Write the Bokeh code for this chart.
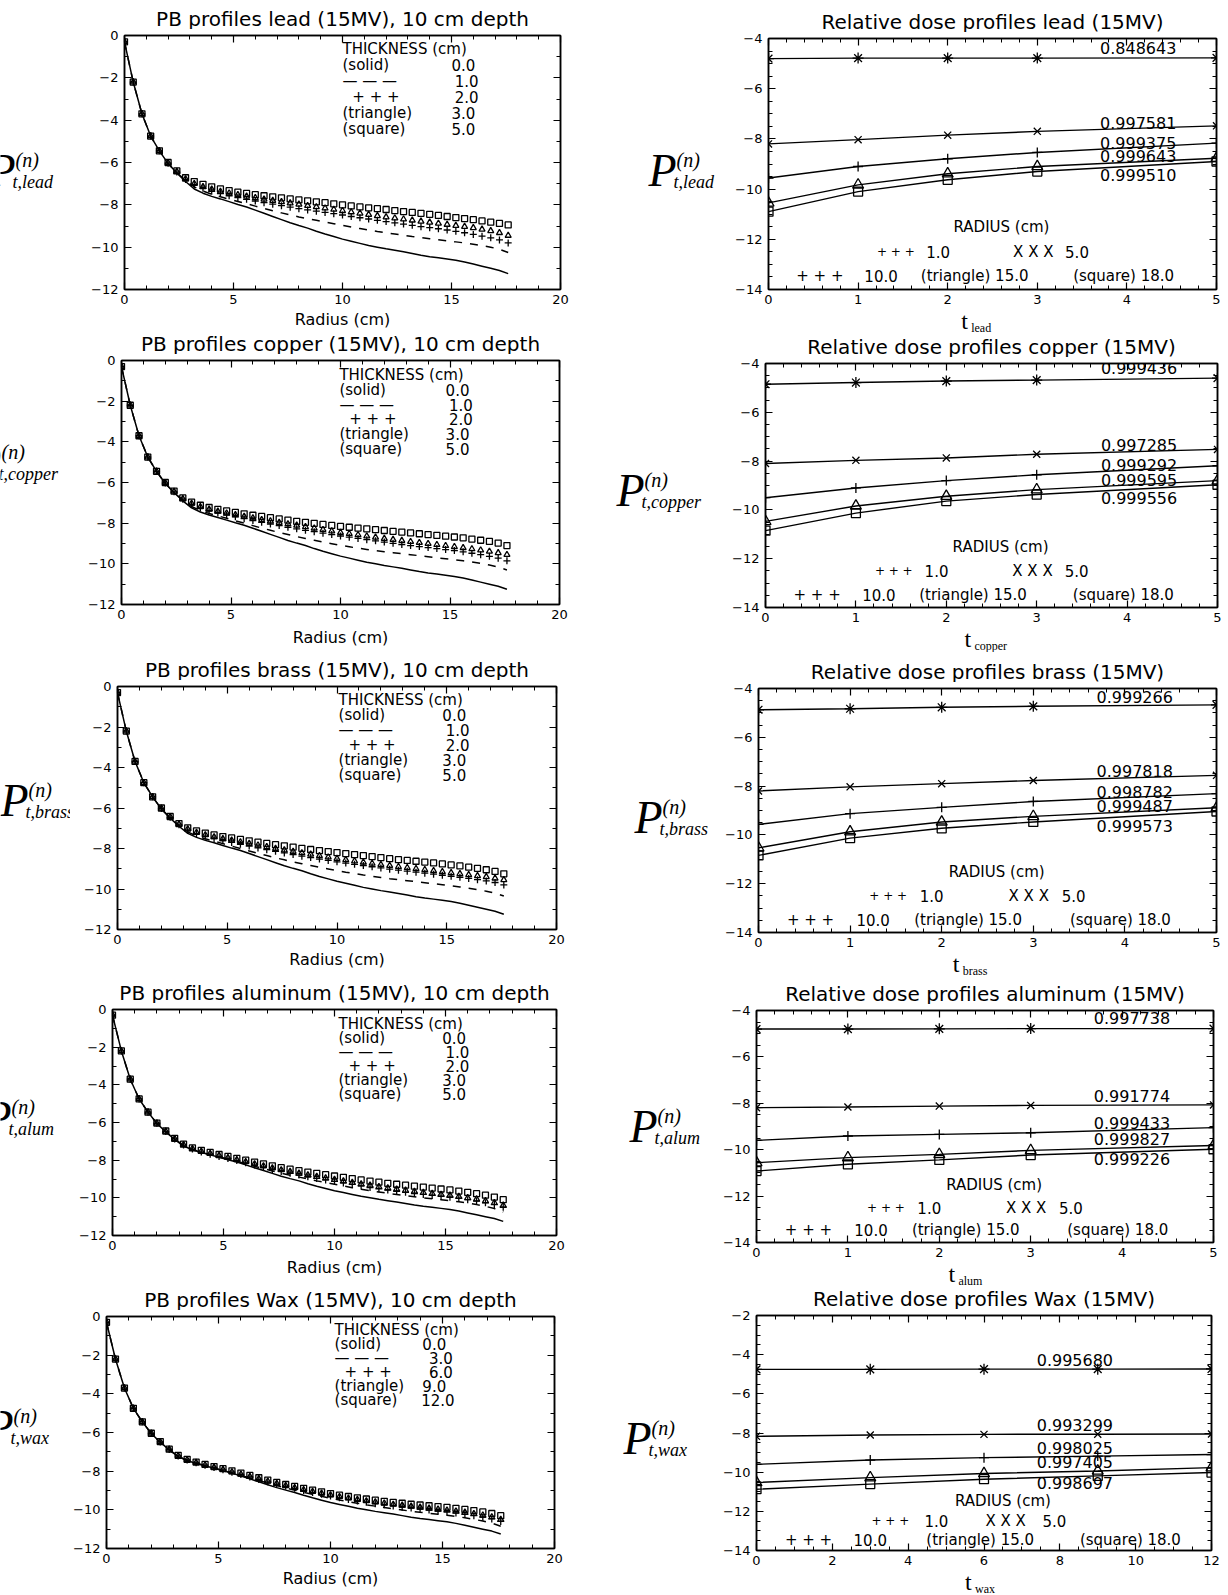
from bokeh.plotting import figure
from bokeh.layouts import column, row
from bokeh.models import Range1d, Label, LinearAxis, SingleIntervalTicker
from bokeh.embed import file_html
from bokeh.resources import INLINE

# ---------------- data ----------------
RADIUS = [0.0, 0.4, 0.8, 1.2, 1.6, 2.0, 2.4, 2.8, 3.2, 3.6,
          4.0, 4.4, 4.8, 5.2, 5.6, 6.0, 6.4, 6.8, 7.2, 7.6,
          8.0, 8.4, 8.8, 9.2, 9.6, 10.0, 10.4, 10.8, 11.2, 11.6,
          12.0, 12.4, 12.8, 13.2, 13.6, 14.0, 14.4, 14.8, 15.2, 15.6,
          16.0, 16.4, 16.8, 17.2, 17.6]

# thickness 0.0 (solid) - open field, identical in every left panel
OPEN_FIELD = [-0.3, -2.2, -3.7, -4.75, -5.45,
              -6.05, -6.5, -6.9, -7.25, -7.45,
              -7.6, -7.72, -7.85, -7.98, -8.1,
              -8.25, -8.4, -8.55, -8.7, -8.85,
              -8.98, -9.1, -9.25, -9.38, -9.5,
              -9.62, -9.72, -9.82, -9.92, -10.0,
              -10.08, -10.15, -10.22, -10.3, -10.38,
              -10.45, -10.5, -10.56, -10.62, -10.7,
              -10.8, -10.9, -11.0, -11.1, -11.25]

LEAD_DASH = [-0.3, -2.2, -3.7, -4.75, -5.45, -6.05, -6.48, -6.86, -7.15, -7.35,
             -7.5, -7.62, -7.73, -7.84, -7.95, -8.06, -8.17, -8.28, -8.38, -8.48,
             -8.57, -8.65, -8.73, -8.81, -8.89, -8.97, -9.05, -9.12, -9.19, -9.26,
             -9.32, -9.38, -9.44, -9.5, -9.55, -9.6, -9.65, -9.7, -9.75, -9.8,
             -9.86, -9.93, -10.0, -10.1, -10.25]
LEAD_PLUS = [-0.3, -2.2, -3.7, -4.75, -5.45, -6.03, -6.45, -6.8, -7.05, -7.22,
             -7.36, -7.47, -7.57, -7.66, -7.74, -7.82, -7.9, -7.97, -8.04, -8.11,
             -8.18, -8.24, -8.3, -8.36, -8.42, -8.48, -8.55, -8.61, -8.67, -8.73,
             -8.79, -8.85, -8.91, -8.97, -9.03, -9.08, -9.13, -9.19, -9.25, -9.32,
             -9.4, -9.48, -9.56, -9.66, -9.8]
LEAD_TRI = [-0.3, -2.2, -3.7, -4.75, -5.45, -6.02, -6.43, -6.78, -7.0, -7.15,
            -7.27, -7.37, -7.45, -7.53, -7.6, -7.67, -7.74, -7.8, -7.86, -7.92,
            -7.98, -8.04, -8.1, -8.16, -8.22, -8.28, -8.34, -8.4, -8.46, -8.52,
            -8.58, -8.63, -8.68, -8.73, -8.78, -8.83, -8.88, -8.93, -8.98, -9.03,
            -9.09, -9.16, -9.23, -9.32, -9.45]
LEAD_SQ = [-0.3, -2.2, -3.7, -4.75, -5.45, -6.0, -6.4, -6.72, -6.9, -7.03,
           -7.15, -7.25, -7.33, -7.4, -7.46, -7.52, -7.57, -7.62, -7.67, -7.72,
           -7.77, -7.81, -7.86, -7.9, -7.95, -8.0, -8.05, -8.1, -8.14, -8.18,
           -8.22, -8.27, -8.32, -8.36, -8.4, -8.45, -8.5, -8.55, -8.6, -8.65,
           -8.7, -8.76, -8.82, -8.88, -8.95]

COPPER_DASH = [-0.3, -2.2, -3.7, -4.75, -5.45, -6.05, -6.48, -6.87, -7.18, -7.38,
               -7.52, -7.64, -7.76, -7.88, -8.0, -8.12, -8.24, -8.35, -8.46, -8.56,
               -8.66, -8.75, -8.84, -8.93, -9.01, -9.09, -9.16, -9.23, -9.29, -9.35,
               -9.4, -9.45, -9.5, -9.55, -9.6, -9.65, -9.7, -9.75, -9.8, -9.85,
               -9.91, -9.98, -10.06, -10.16, -10.3]
COPPER_PLUS = [-0.3, -2.2, -3.7, -4.75, -5.45, -6.03, -6.46, -6.82, -7.07, -7.25,
               -7.39, -7.5, -7.6, -7.69, -7.78, -7.87, -7.96, -8.04, -8.12, -8.2,
               -8.28, -8.35, -8.42, -8.49, -8.56, -8.63, -8.69, -8.75, -8.81, -8.87,
               -8.93, -8.99, -9.05, -9.1, -9.15, -9.2, -9.25, -9.3, -9.35, -9.41,
               -9.48, -9.55, -9.63, -9.72, -9.85]
COPPER_TRI = [-0.3, -2.2, -3.7, -4.75, -5.45, -6.02, -6.44, -6.8, -7.03, -7.2,
              -7.32, -7.42, -7.51, -7.59, -7.67, -7.75, -7.83, -7.9, -7.97, -8.04,
              -8.11, -8.18, -8.25, -8.32, -8.39, -8.46, -8.52, -8.58, -8.64, -8.7,
              -8.76, -8.81, -8.86, -8.91, -8.96, -9.01, -9.06, -9.11, -9.16, -9.21,
              -9.27, -9.33, -9.39, -9.46, -9.55]
COPPER_SQ = [-0.3, -2.2, -3.7, -4.75, -5.45, -6.0, -6.42, -6.76, -6.97, -7.12,
             -7.23, -7.32, -7.4, -7.47, -7.54, -7.61, -7.67, -7.73, -7.79, -7.85,
             -7.91, -7.96, -8.01, -8.06, -8.11, -8.16, -8.2, -8.24, -8.28, -8.32,
             -8.36, -8.4, -8.44, -8.48, -8.52, -8.56, -8.6, -8.64, -8.68, -8.72,
             -8.78, -8.84, -8.9, -8.98, -9.1]

BRASS_DASH = [-0.3, -2.2, -3.7, -4.75, -5.45, -6.05, -6.48, -6.87, -7.18, -7.38,
              -7.52, -7.64, -7.76, -7.88, -8.0, -8.12, -8.24, -8.35, -8.46, -8.56,
              -8.66, -8.75, -8.84, -8.93, -9.01, -9.09, -9.17, -9.24, -9.31, -9.37,
              -9.43, -9.49, -9.54, -9.59, -9.64, -9.69, -9.74, -9.79, -9.84, -9.9,
              -9.96, -10.03, -10.11, -10.21, -10.35]
BRASS_PLUS = [-0.3, -2.2, -3.7, -4.75, -5.45, -6.03, -6.46, -6.83, -7.08, -7.26,
              -7.4, -7.51, -7.61, -7.7, -7.79, -7.88, -7.97, -8.06, -8.14, -8.22,
              -8.3, -8.38, -8.45, -8.52, -8.59, -8.66, -8.72, -8.78, -8.84, -8.9,
              -8.96, -9.02, -9.07, -9.12, -9.17, -9.22, -9.27, -9.32, -9.37, -9.42,
              -9.48, -9.54, -9.6, -9.68, -9.8]
BRASS_TRI = [-0.3, -2.2, -3.7, -4.75, -5.45, -6.02, -6.44, -6.8, -7.04, -7.21,
             -7.33, -7.43, -7.52, -7.6, -7.68, -7.76, -7.84, -7.92, -8.0, -8.08,
             -8.15, -8.22, -8.29, -8.36, -8.43, -8.5, -8.56, -8.62, -8.68, -8.74,
             -8.8, -8.85, -8.9, -8.95, -9.0, -9.05, -9.1, -9.15, -9.2, -9.25,
             -9.3, -9.35, -9.4, -9.47, -9.55]
BRASS_SQ = [-0.3, -2.2, -3.7, -4.75, -5.45, -6.0, -6.42, -6.77, -6.98, -7.13,
            -7.24, -7.33, -7.41, -7.48, -7.55, -7.62, -7.69, -7.75, -7.81, -7.87,
            -7.93, -7.99, -8.05, -8.1, -8.15, -8.2, -8.25, -8.3, -8.35, -8.4,
            -8.45, -8.5, -8.55, -8.59, -8.63, -8.67, -8.71, -8.76, -8.81, -8.86,
            -8.92, -8.98, -9.05, -9.13, -9.25]

ALUM_DASH = [-0.3, -2.2, -3.7, -4.75, -5.45, -6.05, -6.49, -6.88, -7.22, -7.43,
             -7.58, -7.7, -7.82, -7.94, -8.06, -8.19, -8.32, -8.45, -8.57, -8.69,
             -8.8, -8.9, -9.0, -9.1, -9.19, -9.28, -9.37, -9.46, -9.54, -9.62,
             -9.69, -9.76, -9.82, -9.88, -9.94, -10.0, -10.05, -10.1, -10.15, -10.21,
             -10.28, -10.36, -10.45, -10.57, -10.75]
ALUM_PLUS = [-0.3, -2.2, -3.7, -4.75, -5.45, -6.04, -6.48, -6.87, -7.2, -7.41,
             -7.56, -7.68, -7.8, -7.91, -8.02, -8.14, -8.26, -8.38, -8.49, -8.6,
             -8.7, -8.79, -8.88, -8.97, -9.05, -9.13, -9.21, -9.29, -9.37, -9.45,
             -9.52, -9.59, -9.65, -9.71, -9.77, -9.82, -9.87, -9.92, -9.97, -10.03,
             -10.1, -10.17, -10.26, -10.36, -10.5]
ALUM_TRI = [-0.3, -2.2, -3.7, -4.75, -5.45, -6.04, -6.47, -6.86, -7.18, -7.39,
            -7.53, -7.65, -7.76, -7.87, -7.98, -8.09, -8.2, -8.31, -8.42, -8.52,
            -8.61, -8.7, -8.79, -8.87, -8.95, -9.03, -9.11, -9.19, -9.27, -9.34,
            -9.41, -9.48, -9.54, -9.6, -9.66, -9.72, -9.77, -9.82, -9.87, -9.93,
            -10.0, -10.07, -10.16, -10.26, -10.4]
ALUM_SQ = [-0.3, -2.2, -3.7, -4.75, -5.45, -6.03, -6.45, -6.84, -7.15, -7.35,
           -7.48, -7.59, -7.7, -7.8, -7.9, -8.0, -8.1, -8.2, -8.3, -8.4,
           -8.48, -8.56, -8.63, -8.7, -8.77, -8.84, -8.91, -8.98, -9.05, -9.11,
           -9.17, -9.23, -9.28, -9.33, -9.38, -9.43, -9.48, -9.53, -9.58, -9.64,
           -9.71, -9.78, -9.86, -9.96, -10.1]

WAX_DASH = [-0.3, -2.2, -3.7, -4.75, -5.45, -6.05, -6.5, -6.89, -7.23, -7.44,
            -7.59, -7.71, -7.83, -7.96, -8.09, -8.22, -8.35, -8.48, -8.61, -8.74,
            -8.87, -8.98, -9.09, -9.2, -9.3, -9.4, -9.49, -9.58, -9.66, -9.74,
            -9.81, -9.88, -9.95, -10.01, -10.07, -10.13, -10.18, -10.23, -10.28, -10.34,
            -10.41, -10.49, -10.58, -10.69, -10.85]
WAX_PLUS = [-0.3, -2.2, -3.7, -4.75, -5.45, -6.05, -6.49, -6.88, -7.21, -7.42,
            -7.57, -7.69, -7.81, -7.93, -8.05, -8.17, -8.3, -8.43, -8.55, -8.67,
            -8.78, -8.89, -9.0, -9.1, -9.2, -9.29, -9.38, -9.46, -9.54, -9.61,
            -9.68, -9.74, -9.8, -9.86, -9.91, -9.96, -10.01, -10.06, -10.11, -10.17,
            -10.23, -10.3, -10.38, -10.47, -10.6]
WAX_TRI = [-0.3, -2.2, -3.7, -4.75, -5.45, -6.04, -6.48, -6.87, -7.2, -7.41,
           -7.56, -7.68, -7.8, -7.92, -8.04, -8.16, -8.28, -8.4, -8.52, -8.64,
           -8.75, -8.86, -8.96, -9.06, -9.15, -9.24, -9.32, -9.4, -9.47, -9.54,
           -9.6, -9.66, -9.72, -9.77, -9.82, -9.87, -9.92, -9.97, -10.02, -10.07,
           -10.13, -10.2, -10.28, -10.37, -10.5]
WAX_SQ = [-0.3, -2.2, -3.7, -4.75, -5.45, -6.04, -6.47, -6.86, -7.18, -7.39,
          -7.53, -7.65, -7.76, -7.87, -7.98, -8.1, -8.22, -8.34, -8.46, -8.58,
          -8.69, -8.79, -8.89, -8.98, -9.07, -9.16, -9.24, -9.31, -9.38, -9.44,
          -9.5, -9.56, -9.61, -9.66, -9.71, -9.75, -9.79, -9.83, -9.87, -9.92,
          -9.98, -10.04, -10.11, -10.19, -10.3]

THICK_METAL = ["0.0", "1.0", "2.0", "3.0", "5.0"]
THICK_WAX = ["0.0", "3.0", "6.0", "9.0", "12.0"]

# relative dose vs thickness, radii 1, 5, 10, 15, 18 cm
T_METAL = [0, 1, 2, 3, 5]
T_WAX = [0, 3, 6, 9, 12]

LEAD_R = [[-4.8, -4.78, -4.78, -4.78, -4.77],
          [-8.2, -8.03, -7.85, -7.7, -7.48],
          [-9.56, -9.1, -8.79, -8.54, -8.17],
          [-10.55, -9.83, -9.39, -9.1, -8.77],
          [-10.9, -10.1, -9.63, -9.3, -8.9]]
LEAD_CORR = ["0.848643", "0.997581", "0.999375", "0.999643", "0.999510"]

COPPER_R = [[-4.85, -4.78, -4.72, -4.68, -4.6],
            [-8.1, -7.97, -7.87, -7.72, -7.52],
            [-9.5, -9.1, -8.8, -8.56, -8.19],
            [-10.47, -9.84, -9.44, -9.17, -8.8],
            [-10.85, -10.13, -9.64, -9.37, -8.97]]
COPPER_CORR = ["0.999436", "0.997285", "0.999292", "0.999595", "0.999556"]

BRASS_R = [[-4.87, -4.83, -4.77, -4.73, -4.67],
           [-8.2, -8.03, -7.9, -7.77, -7.56],
           [-9.57, -9.13, -8.87, -8.63, -8.31],
           [-10.53, -9.87, -9.47, -9.24, -8.89],
           [-10.84, -10.13, -9.73, -9.47, -9.04]]
BRASS_CORR = ["0.999266", "0.997818", "0.998782", "0.999487", "0.999573"]

ALUM_R = [[-4.8, -4.8, -4.79, -4.78, -4.78],
          [-8.19, -8.16, -8.12, -8.09, -8.07],
          [-9.6, -9.41, -9.34, -9.27, -9.05],
          [-10.56, -10.34, -10.2, -10.03, -9.82],
          [-10.92, -10.63, -10.44, -10.23, -9.98]]
ALUM_CORR = ["0.997738", "0.991774", "0.999433", "0.999827", "0.999226"]

WAX_R = [[-4.75, -4.75, -4.74, -4.74, -4.73],
         [-8.17, -8.1, -8.07, -8.06, -8.05],
         [-9.6, -9.38, -9.26, -9.18, -9.1],
         [-10.53, -10.28, -10.07, -9.94, -9.77],
         [-10.87, -10.61, -10.36, -10.19, -10.02]]
WAX_CORR = ["0.995680", "0.993299", "0.998025", "0.997405", "0.998697"]

# ---------------- styling helpers ----------------
FONT = "DejaVu Sans"
SERIF = "Liberation Serif"
W = 614                # width of one half of the page
WY_L, WY_R = 70, 106   # width of the y-label strips
BT, BB = 6, 21         # plot borders above / below the frame


def lab(p, x, y, text, size, align="left", baseline="middle", font=FONT,
        style="normal", xo=0, yo=0):
    p.add_layout(Label(x=x, y=y, text=text, text_font=font,
                       text_font_size=f"{size}px", text_align=align,
                       text_baseline=baseline, text_font_style=style,
                       x_offset=xo, y_offset=yo, text_color="black"))


def strip(w, h, xr=None, bl=0, br=0):
    s = figure(width=w, height=h,
               x_range=xr if xr is not None else Range1d(0, w),
               y_range=Range1d(0, h),
               title=None, output_backend="svg", toolbar_location=None,
               min_border_left=bl, min_border_right=br, min_border_top=0,
               min_border_bottom=0, x_axis_type=None, y_axis_type=None)
    s.outline_line_color = None
    s.background_fill_color = "white"
    s.border_fill_color = "white"
    return s


def base_fig(w, h, bl, br, xr, yr, xint, xminor, yint, yminor):
    p = figure(width=w, height=h, x_range=Range1d(*xr), y_range=Range1d(*yr),
               title=None, output_backend="svg", toolbar_location=None,
               min_border_left=bl, min_border_right=br,
               min_border_top=BT, min_border_bottom=BB,
               x_axis_type=None, y_axis_type=None)
    for side in ("below", "above", "left", "right"):
        if side in ("below", "above"):
            tk = SingleIntervalTicker(interval=xint, num_minor_ticks=xminor)
        else:
            tk = SingleIntervalTicker(interval=yint, num_minor_ticks=yminor)
        ax = LinearAxis(ticker=tk)
        ax.axis_line_color = "black"
        ax.axis_line_width = 1.5
        ax.major_tick_in = 7
        ax.major_tick_out = 0
        ax.minor_tick_in = 4
        ax.minor_tick_out = 0
        ax.major_tick_line_color = "black"
        ax.minor_tick_line_color = "black"
        ax.major_tick_line_width = 1.2
        ax.minor_tick_line_width = 1.0
        ax.major_label_text_font = FONT
        ax.major_label_text_font_size = "13px"
        ax.major_label_text_color = "black"
        if side in ("above", "right"):
            ax.major_label_text_font_size = "0px"
            ax.major_label_text_color = None
            ax.major_label_standoff = 0
        elif side == "below":
            ax.major_label_standoff = 5
        else:
            ax.major_label_standoff = 6
        p.add_layout(ax, side)
    p.outline_line_color = "black"
    p.outline_line_width = 1.5
    p.background_fill_color = "white"
    p.border_fill_color = "white"
    return p


def ylab_strip(w, H, px, pbase, material):
    # baselines given from the strip top; Bokeh draws 'alphabetic' text about
    # 13 px lower here, so each label is lifted by that amount
    s = strip(w, H)
    yb = H - pbase
    lab(s, px, yb + 16, "P", 46, baseline="alphabetic", font=SERIF, style="italic")
    lab(s, px + 28, yb + 27, "(n)", 20, baseline="alphabetic", font=SERIF,
        style="italic")
    lab(s, px + 25, yb + 5, "t," + material, 18, baseline="alphabetic",
        font=SERIF, style="italic")
    return s


def blocks(H, ft, fb, wy):
    cw = W - wy
    ht = ft - BT
    hp = (fb - ft) + BT + BB
    hx = H - ht - hp
    return cw, ht, hp, hx


def left_panel(s):
    H, ft, fb, fl, fr = s["h"], s["ft"], s["fb"], s["fl"], s["fr"]
    xr, yr = (0, 20), (-12, 0)
    cw, ht, hp, hx = blocks(H, ft, fb, WY_L)
    bl, br = fl - WY_L, W - fr
    p = base_fig(cw, hp, bl, br, xr, yr, 5, 5, 2, 2)
    p.line(RADIUS, OPEN_FIELD, line_color="black", line_width=1.5)
    p.line(RADIUS, s["dash"], line_color="black", line_width=1.5, line_dash="8 8")
    p.scatter(RADIUS, s["plus"], marker="cross", size=7, line_color="black",
              line_width=1.3)
    p.scatter(RADIUS, s["tri"], marker="triangle", size=6, line_color="black",
              fill_color=None, line_width=1.3)
    p.scatter(RADIUS, s["sq"], marker="square", size=6, line_color="black",
              fill_color=None, line_width=1.3)
    x0, y0, dy = s["leg"]
    rows = ["THICKNESS (cm)", "(solid)", "\u2014 \u2014 \u2014", "+ + +",
            "(triangle)", "(square)"]
    for i, txt in enumerate(rows):
        xx = x0 + (0.45 if txt == "+ + +" else 0.0)
        lab(p, xx, y0 - i * dy, txt, 15)
    for i, (txt, nx) in enumerate(zip(s["thick"], s["numx"])):
        lab(p, nx, y0 - (i + 1) * dy, txt, 15)

    ts = strip(cw, ht, p.x_range, bl, br)
    lab(ts, 10, 11, s["title"], 20, align="center")
    xs = strip(cw, hx, p.x_range, bl, br)
    lab(xs, 10, hx - max(s["rl"] - BB, 9), "Radius (cm)", 16, align="center")
    ys = ylab_strip(WY_L, H, s["P"][0], s["P"][1], s["mat"])
    return row(ys, column(ts, p, xs, spacing=0), spacing=0)


def right_panel(s):
    H, ft, fb, fl, fr = s["h"], s["ft"], s["fb"], s["fl"], s["fr"]
    tmax = s["t"][-1]
    xr = (0, tmax)
    yr = (-14, s["ytop"])
    cw, ht, hp, hx = blocks(H, ft, fb, WY_R)
    bl, br = fl - WY_R, W - fr
    xint = 1 if tmax == 5 else 2
    xminor = 5 if tmax == 5 else 4
    p = base_fig(cw, hp, bl, br, xr, yr, xint, xminor, 2, 4)
    styles = [("asterisk", 11), ("x", 10), ("cross", 10), ("triangle", 11), ("square", 9)]
    for ys_, (mk, sz) in zip(s["series"], styles):
        p.line(s["t"], ys_, line_color="black", line_width=1.4)
        p.scatter(s["t"], ys_, marker=mk, size=sz, line_color="black",
                  fill_color=None, line_width=1.3)
    for txt, yy in zip(s["corr"], s["corr_y"]):
        lab(p, s["corr_x"], yy, txt, 16)
    k = tmax / 5.0
    L = s["legpos"]
    lab(p, L["rad"][0] * k, L["rad"][1], "RADIUS (cm)", 15, align="center")
    lab(p, L["p1"][0] * k, L["y1"], "+ + +", 12)
    lab(p, L["p1"][1] * k, L["y1"], "1.0", 15)
    lab(p, L["x5"][0] * k, L["y1"], "X X X", 15)
    lab(p, L["x5"][1] * k, L["y1"], "5.0", 15)
    lab(p, L["b"][0] * k, L["y2"], "+ + +", 15)
    lab(p, L["b"][1] * k, L["y2"], "10.0", 15)
    lab(p, L["b"][2] * k, L["y2"], "(triangle) 15.0", 15)
    lab(p, L["b"][3] * k, L["y2"], "(square) 18.0", 15)

    ts = strip(cw, ht, p.x_range, bl, br)
    lab(ts, tmax / 2, 11, s["title"], 20, align="center")
    xs = strip(cw, hx, p.x_range, bl, br)
    lab(xs, s["tx"], hx - 10, "t", 24, baseline="alphabetic", font=SERIF)
    lab(xs, s["tx"], hx - 17, s["mat"], 12, baseline="alphabetic", font=SERIF, xo=10)
    ys = ylab_strip(WY_R, H, s["P"][0], s["P"][1], s["mat"])
    return row(ys, column(ts, p, xs, spacing=0), spacing=0)


LEG5 = dict(rad=(2.6, -11.5), y1=-12.5, p1=(1.21, 1.76), x5=(2.73, 3.31),
            y2=-13.48, b=(0.31, 1.07, 1.7, 3.4))
LEGW = dict(rad=(6.5 / 2.4, -11.46), y1=-12.47, p1=(3.03 / 2.4, 4.43 / 2.4),
            x5=(6.04 / 2.4, 7.54 / 2.4), y2=-13.48,
            b=(0.75 / 2.4, 2.56 / 2.4, 4.48 / 2.4, 8.53 / 2.4))

HEIGHTS = [333, 319, 324, 309, 310]

left_specs = [
    dict(title="PB profiles lead (15MV), 10 cm depth", mat="lead",
         dash=LEAD_DASH, plus=LEAD_PLUS, tri=LEAD_TRI, sq=LEAD_SQ, thick=THICK_METAL,
         fl=124, fr=560, ft=35, fb=289, rl=30,
         leg=(10.0, -0.63, 0.755), numx=[15.0, 15.15, 15.15, 15.0, 15.0],
         P=(-13, 186)),
    dict(title="PB profiles copper (15MV), 10 cm depth", mat="copper",
         dash=COPPER_DASH, plus=COPPER_PLUS, tri=COPPER_TRI, sq=COPPER_SQ, thick=THICK_METAL,
         fl=121, fr=559, ft=27, fb=271, rl=33,
         leg=(9.95, -0.71, 0.73), numx=[14.8, 14.95, 14.95, 14.8, 14.8],
         P=(-27, 145)),
    dict(title="PB profiles brass (15MV), 10 cm depth", mat="brass",
         dash=BRASS_DASH, plus=BRASS_PLUS, tri=BRASS_TRI, sq=BRASS_SQ, thick=THICK_METAL,
         fl=117, fr=556, ft=34, fb=277, rl=29,
         leg=(10.07, -0.69, 0.735), numx=[14.8, 14.95, 14.95, 14.8, 14.8],
         P=(0, 164)),
    dict(title="PB profiles aluminum (15MV), 10 cm depth", mat="alum",
         dash=ALUM_DASH, plus=ALUM_PLUS, tri=ALUM_TRI, sq=ALUM_SQ, thick=THICK_METAL,
         fl=112, fr=556, ft=33, fb=259, rl=32,
         leg=(10.18, -0.77, 0.745), numx=[14.85, 15.0, 15.0, 14.85, 14.85],
         P=(-17, 157)),
    dict(title="PB profiles Wax (15MV), 10 cm depth", mat="wax",
         dash=WAX_DASH, plus=WAX_PLUS, tri=WAX_TRI, sq=WAX_SQ, thick=THICK_WAX,
         fl=106, fr=554, ft=31, fb=263, rl=30,
         leg=(10.18, -0.72, 0.72), numx=[14.1, 14.4, 14.4, 14.1, 14.05],
         P=(-15, 157)),
]

right_specs = [
    dict(title="Relative dose profiles lead (15MV)", mat="lead", t=T_METAL, ytop=-4,
         series=LEAD_R, corr=LEAD_CORR, corr_x=3.7,
         corr_y=[-4.36, -7.35, -8.17, -8.68, -9.43],
         fl=154, fr=602, ft=38, fb=289, tx=2.15, P=(34, 186), legpos=LEG5),
    dict(title="Relative dose profiles copper (15MV)", mat="copper", t=T_METAL, ytop=-4,
         series=COPPER_R, corr=COPPER_CORR, corr_x=3.71,
         corr_y=[-4.2, -7.33, -8.16, -8.77, -9.53],
         fl=151, fr=603, ft=30, fb=274, tx=2.2, P=(2, 173), legpos=LEG5),
    dict(title="Relative dose profiles brass (15MV)", mat="brass", t=T_METAL, ytop=-4,
         series=BRASS_R, corr=BRASS_CORR, corr_x=3.69,
         corr_y=[-4.36, -7.4, -8.24, -8.8, -9.63],
         fl=144, fr=602, ft=36, fb=280, tx=2.12, P=(20, 181), legpos=LEG5),
    dict(title="Relative dose profiles aluminum (15MV)", mat="alum", t=T_METAL, ytop=-4,
         series=ALUM_R, corr=ALUM_CORR, corr_x=3.69,
         corr_y=[-4.34, -7.69, -8.84, -9.55, -10.41],
         fl=142, fr=599, ft=34, fb=266, tx=2.1, P=(15, 166), legpos=LEG5),
    dict(title="Relative dose profiles Wax (15MV)", mat="wax", t=T_WAX, ytop=-2,
         series=WAX_R, corr=WAX_CORR, corr_x=7.39,
         corr_y=[-4.25, -7.57, -8.79, -9.47, -10.53],
         fl=134, fr=597, ft=30, fb=265, tx=5.5, P=(9, 169), legpos=LEGW),
]

rows_out = []
for i in range(5):
    ls = dict(left_specs[i], h=HEIGHTS[i])
    rs = dict(right_specs[i], h=HEIGHTS[i])
    rows_out.append(row(left_panel(ls), right_panel(rs), spacing=0))

layout = column(*rows_out, spacing=0)
open("out.html", "w").write(file_html(layout, INLINE, "PB profiles"))
